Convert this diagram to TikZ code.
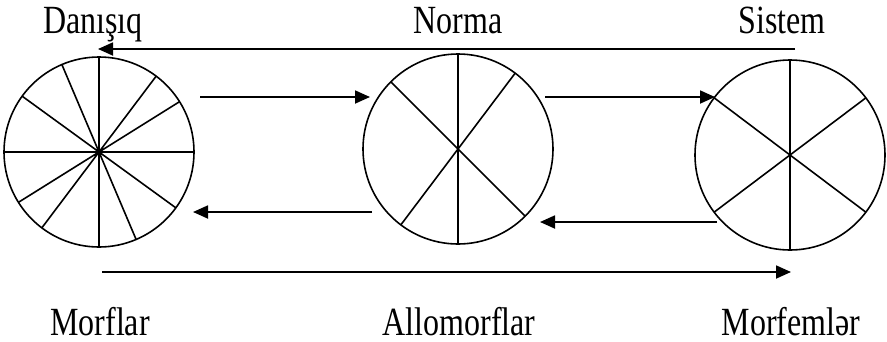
\documentclass[tikz,border=0pt]{standalone}
\usepackage{fontspec}
\setmainfont{Liberation Serif}
\usepackage{graphicx}
\usepackage{tikz}
\usetikzlibrary{arrows.meta}

\newcommand{\tallword}[1]{\scalebox{1}[1.25]{#1}}

\begin{document}
\begin{tikzpicture}[
x=1pt,y=-1pt,
wheel/.style={draw, circle, line width=1.6pt, minimum size=190pt, inner sep=0pt, outer sep=0pt},
spoke/.style={line width=1.6pt},
msg/.style={-{Triangle[length=15pt,width=13pt]}, line width=1.8pt},
word/.style={font=\fontsize{32}{38}\selectfont, anchor=base, inner sep=0pt}
]
\useasboundingbox (0,0) rectangle (887,341);

\node[wheel] (morf) at (99,152) {};
\node[wheel] (allo) at (458,149) {};
\node[wheel] (sist) at (790,155) {};

\draw[spoke] (morf.0) -- (morf.180) (morf.32) -- (morf.212) (morf.53) -- (morf.233)
  (morf.90) -- (morf.270) (morf.113) -- (morf.293) (morf.144) -- (morf.324);
\draw[spoke] (allo.53) -- (allo.233) (allo.90) -- (allo.270) (allo.135) -- (allo.315);
\draw[spoke] (sist.37) -- (sist.217) (sist.90) -- (sist.270) (sist.143) -- (sist.323);

\node[word] (danisiq) at (93,33) {\tallword{Danışıq}};
\node[word] (norma) at (458,33) {\tallword{Norma}};
\node[word] (sistem) at (782,33) {\tallword{Sistem}};
\node[word] (morflar) at (100,335) {\tallword{Morflar}};
\node[word] (allomorflar) at (459,335) {\tallword{Allomorflar}};
\node[word] (morfemler) at (791,335) {\tallword{Morfemlər}};

\coordinate (topR) at (795,49);
\coordinate (topL) at (98,49);
\coordinate (upA) at (200,97);
\coordinate (upB) at (370,97);
\coordinate (upC) at (545,97);
\coordinate (upD) at (715,97);
\coordinate (loA) at (372,212);
\coordinate (loB) at (193,212);
\coordinate (loC) at (717,222);
\coordinate (loD) at (540,222);
\coordinate (botL) at (102,272);
\coordinate (botR) at (791,272);

\draw[msg] (topR) -- (topL);
\draw[msg] (upA) -- (upB);
\draw[msg] (upC) -- (upD);
\draw[msg] (loA) -- (loB);
\draw[msg] (loC) -- (loD);
\draw[msg] (botL) -- (botR);
\end{tikzpicture}
\end{document}
